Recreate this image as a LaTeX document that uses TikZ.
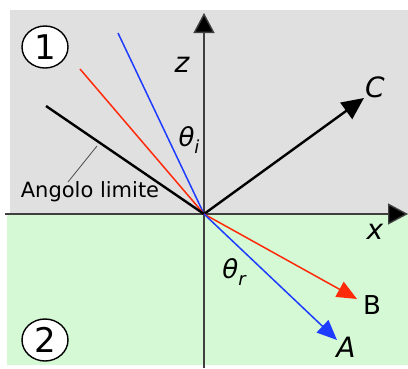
\documentclass[tikz,border=0pt]{standalone}
\usepackage{fontspec}
\setmainfont{DejaVu Sans}
\usetikzlibrary{arrows.meta,shapes.geometric}
\definecolor{bgup}{HTML}{E0E0E0}
\definecolor{bgdown}{HTML}{D4F9D4}
\definecolor{rayblue}{HTML}{1E3CFF}
\definecolor{rayred}{HTML}{FF2A0A}
\definecolor{axisgray}{HTML}{404040}
\newcommand{\thetalab}[1]{{\itshape θ}\raisebox{-0.25em}{\fontsize{18}{20}\selectfont\itshape #1}}
\begin{document}
\begin{tikzpicture}[x=1pt,y=-1pt,
  lab/.style={font=\fontsize{28}{30}\selectfont\itshape, inner sep=0pt},
  labup/.style={font=\fontsize{26}{28}\selectfont, inner sep=0pt},
  mlab/.style={font=\fontsize{26}{28}\selectfont, inner sep=0pt},
  medium/.style={draw=black, line width=1.4pt, fill=white, ellipse, minimum width=46pt, minimum height=42pt, inner sep=0pt, font=\fontsize{34}{36}\selectfont},
  axis/.style={draw=axisgray, line width=1.4pt, -{Triangle[length=20pt,width=21pt,fill=black]}},
  ray/.style={line width=1.5pt},
  tipray/.style={line width=1.5pt, -{Triangle[length=20pt,width=17pt]}}]
\useasboundingbox (0,0) rectangle (408,368);
% regions
\fill[bgup] (10,10) rectangle (408,214);
\fill[bgdown] (7,214) rectangle (408,365);
% coordinates
\coordinate (O) at (204,214);
\coordinate (xs) at (5,214);
\coordinate (xe) at (408,214);
\coordinate (zs) at (204,368);
\coordinate (ze) at (204,13);
\coordinate (blueIn) at (118,33);
\coordinate (redIn) at (80,69);
\coordinate (blackIn) at (46,106);
\coordinate (Ctip) at (364,98);
\coordinate (Btip) at (357,299);
\coordinate (Atip) at (337,340);
% axes
\draw[axis] (xs) -- (xe);
\draw[axis] (zs) -- (ze);
% incident rays
\draw[ray, rayblue] (blueIn) -- (O);
\draw[ray, rayred] (redIn) -- (O);
\draw[ray, black, line width=2.4pt] (blackIn) -- (O);
% outgoing rays
\draw[tipray, black, line width=2.4pt, -{Triangle[length=22pt,width=20pt]}] (O) -- (Ctip);
\draw[tipray, rayred] (O) -- (Btip);
\draw[tipray, rayblue] (O) -- (Atip);
% labels
\node[lab] (zl) at (182,65) {z};
\node[lab] (xl) at (375,232) {x};
\node[lab] (Cl) at (375,87) {C};
\node[labup] (Bl) at (372,305) {B};
\node[lab] (Al) at (346,347) {A};
\node[mlab] (thi) at (189,140) {\thetalab{i}};
\node[mlab] (thr) at (234,272) {\thetalab{r}};
\node[font=\fontsize{21}{23}\selectfont, inner sep=0pt] (ang) at (90,192) {Angolo limite};
\coordinate (leadEnd) at (97,146);
\draw[gray!60!black, line width=0.8pt] (68,182) -- (leadEnd);
\node[medium] (m1) at (45,47) {1};
\node[medium] (m2) at (45,340) {2};
\end{tikzpicture}
\end{document}
